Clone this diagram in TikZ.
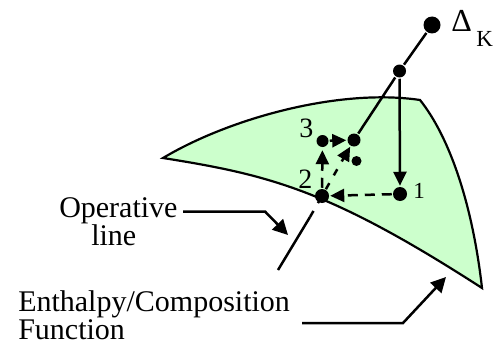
\documentclass[tikz,border=0pt]{standalone}
\usepackage{fontspec}
\setmainfont{Liberation Serif}
\usetikzlibrary{arrows.meta}
\definecolor{regfill}{RGB}{204,255,204}
\begin{document}
\begin{tikzpicture}[x=1pt,y=-1pt,
  line width=2.5pt,
  tip/.style={-{Triangle[length=14pt,width=13pt]}},
  bigtip/.style={-{Triangle[length=15pt,width=15pt]}},
  dsh/.style={dash pattern=on 10pt off 7pt},
  dotc/.style={circle,fill=black,draw=none,inner sep=0pt,minimum size=#1},
  lbl/.style={font=\fontsize{30}{28}\selectfont, inner sep=0pt, anchor=base west}
]
\useasboundingbox (0,0) rectangle (497,345);
% region
\draw[fill=regfill, line width=2.2pt, line join=miter]
  (163,158) .. controls (230,118) and (340,88) .. (420,100)
  .. controls (448,135) and (472,200) .. (482,288)
  .. controls (330,190) and (270,175) .. (163,158) -- cycle;
% points
\node[dotc=17pt] (dk) at (432,25) {};
\node[dotc=13pt] (a) at (399.5,71) {};
\node[dotc=13pt] (b) at (354,140) {};
\node[dotc=14pt] (p1) at (400,194) {};
\node[dotc=14pt] (p2) at (322,196) {};
\node[dotc=12pt] (p3) at (322.5,141) {};
\node[dotc=10pt] (q) at (356.5,161) {};
% connectors
\draw (dk) -- (a);
\draw (a) -- (b);
\draw[tip] (a) -- (p1);
\draw[tip,dsh] (p1) -- (p2);
\draw[tip,dsh,shorten >=2pt] (p2) -- (p3);
\draw[tip] (p3) -- (b);
% operative line
\coordinate (o1) at (278,270);
\coordinate (o2) at (310,217);
\draw (o1) -- (o2);
\draw[tip,dash pattern=on 7pt off 9pt] (o2) -- (b);
% labels
\node[lbl] (op) at (58,217) {Operative};
\node[lbl] (opl) at (90,245) {line};
\node[lbl] (en1) at (17,311) {Enthalpy/Composition};
\node[lbl] (en2) at (17,339) {Function};
\node[font=\fontsize{23}{23}\selectfont, inner sep=0pt, anchor=base west] (l1) at (412,198) {1};
\node[font=\fontsize{28}{28}\selectfont, inner sep=0pt, anchor=base west] (l2) at (297,188) {2};
\node[font=\fontsize{28}{28}\selectfont, inner sep=0pt, anchor=base west] (l3) at (298,137) {3};
\node[font=\fontsize{32}{32}\selectfont, inner sep=0pt, anchor=base west] (dkl) at (450,31) {Δ};
\node[font=\fontsize{23}{23}\selectfont, inner sep=0pt, anchor=base west] (dks) at (475,46) {K};
% pointers
\coordinate (opS) at (183,211.5);
\coordinate (opK) at (265,211.5);
\coordinate (opT) at (288,235);
\draw[bigtip] (opS) -- (opK) -- (opT);
\coordinate (enS) at (302,323);
\coordinate (enK) at (403,323);
\coordinate (enT) at (446,277);
\draw[bigtip] (enS) -- (enK) -- (enT);
\end{tikzpicture}
\end{document}
